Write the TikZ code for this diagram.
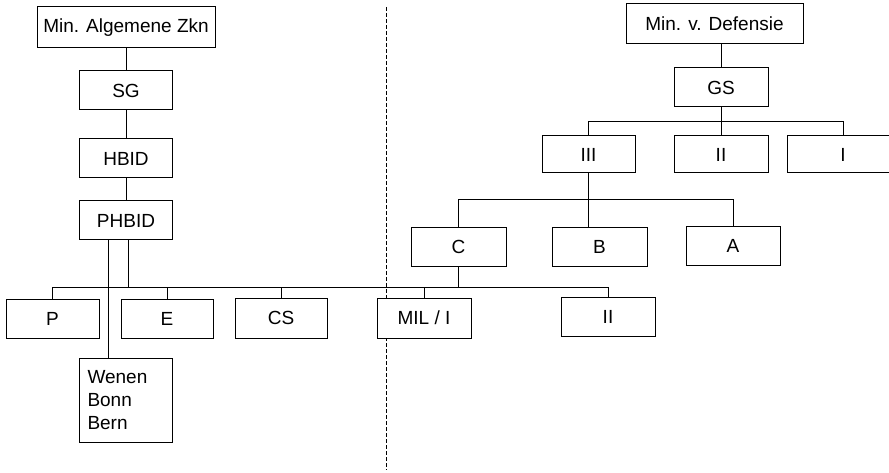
\documentclass[tikz,border=0pt]{standalone}
\usepackage{fontspec}
\setmainfont{Liberation Sans}
\begin{document}
\begin{tikzpicture}[x=1pt, y=-1pt, line width=1pt,
  unit/.style={draw, fill=white, inner sep=0pt, minimum height=39pt, font=\fontsize{19}{23}\selectfont},
  divider/.style={dash pattern=on 4pt off 2pt}]
\useasboundingbox (0,0) rectangle (889,473);
\draw[divider] (386,7) -- (386,470);

% left column
\node[unit, minimum width=178pt, minimum height=41pt] (minaz) at (126,27.5) {Min. Algemene Zkn};
\node[unit, minimum width=93pt] (sg) at (126,90.5) {SG};
\node[unit, minimum width=93pt] (hbid) at (126,158.5) {HBID};
\node[unit, minimum width=93pt] (phbid) at (126,220.5) {PHBID};
\node[unit, text width=77pt, inner xsep=8pt, minimum height=84pt, align=left] (posts) at (126,400) {Wenen\\Bonn\\Bern};
\draw (minaz) -- (sg);
\draw (sg) -- (hbid);
\draw (hbid) -- (phbid);
\draw ([xshift=-18pt]phbid.south) -- ([xshift=-18pt]posts.north);

% right column
\node[unit, minimum width=177pt, minimum height=40pt] (mvd) at (714.5,24) {Min. v. Defensie};
\node[unit, minimum width=94pt] (gs) at (721,87.5) {GS};
\node[unit, minimum width=93pt, minimum height=37pt] (iii) at (588.5,154.5) {III};
\node[unit, minimum width=94pt, minimum height=37pt] (ii) at (721,154.5) {II};
\node[unit, minimum width=112pt, minimum height=37pt] (i) at (843,154.5) {I};
\coordinate (gsbus) at (0,122);
\draw (gs.north) -- (gs.north |- mvd.south);
\draw (gs) -- (ii);
\draw (iii.north) |- (i.north |- gsbus) -- (i.north);

\node[unit, minimum width=95pt, minimum height=38pt] (c) at (458.5,247) {C};
\node[unit, minimum width=95pt, minimum height=38pt] (b) at (599.5,247) {B};
\node[unit, minimum width=94pt, minimum height=38pt] (a) at (733,246) {A};
\coordinate (iiibus) at (0,200);
\draw (iii.south) -- (iii.south |- b.north);
\draw (c.north) |- (a.north |- iiibus) -- (a.north);

% bottom row
\node[unit, minimum width=93pt] (p) at (52.5,318.5) {P};
\node[unit, minimum width=92pt] (e) at (167,318.5) {E};
\node[unit, minimum width=92pt, minimum height=40pt] (cs) at (281,318) {CS};
\node[unit, minimum width=94pt, minimum height=40pt] (mil) at (424,318) {MIL / I};
\node[unit, minimum width=94pt] (iib) at (608,316.5) {II};
\coordinate (bus) at (0,287);
\draw (p.north) |- (iib.north |- bus) -- (iib.north);
\foreach \n in {e,cs,mil}
\draw (\n.north) -- (\n.north |- bus);
\draw ([xshift=2pt]phbid.south) -- ([xshift=2pt]phbid.south |- bus);
\draw (c.south) -- (c.south |- bus);
\end{tikzpicture}
\end{document}
